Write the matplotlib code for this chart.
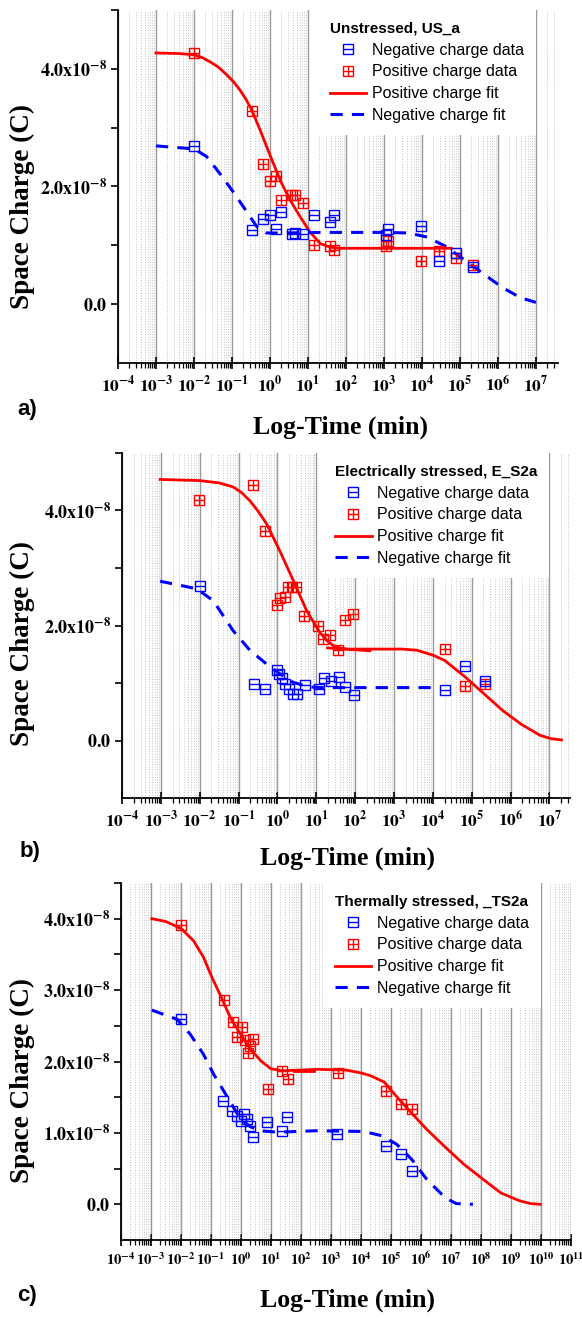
import numpy as np
import matplotlib
matplotlib.use('Agg')
import matplotlib.pyplot as plt
from matplotlib.ticker import LogLocator, NullFormatter
from matplotlib.legend_handler import HandlerTuple

plt.rcParams['mathtext.fontset'] = 'stix'
plt.rcParams['font.family'] = ['Liberation Sans', 'DejaVu Sans']

# charge values are in units of 1e-8 C, times are given as log10(t / min)

# a) Unstressed, US_a
a_pos_logt = [-2.0, -0.48, -0.19, 0.0, 0.16, 0.29, 0.57, 0.67, 0.86, 1.16, 1.59, 1.69, 3.06, 3.11, 3.98, 4.45, 4.89, 5.34]
a_pos_q = [4.27, 3.28, 2.39, 2.09, 2.18, 1.77, 1.86, 1.86, 1.72, 1.00, 0.99, 0.92, 0.99, 1.07, 0.74, 0.91, 0.78, 0.67]
a_neg_logt = [-2.0, -0.48, -0.19, 0.0, 0.17, 0.29, 0.57, 0.66, 0.86, 1.16, 1.58, 1.68, 3.06, 3.11, 3.98, 4.45, 4.89, 5.34]
a_neg_q = [2.68, 1.26, 1.45, 1.52, 1.28, 1.56, 1.20, 1.21, 1.20, 1.51, 1.39, 1.51, 1.18, 1.28, 1.33, 0.73, 0.87, 0.64]
a_pos_fit_logt = [-3.0, -2.4, -2.0, -1.78, -1.58, -1.36, -1.14, -0.96, -0.79, -0.63, -0.48, -0.26, -0.09, 0.09, 0.31,
                  0.53, 0.79, 1.05, 1.32, 1.58, 1.84, 2.2, 4.77]
a_pos_fit_q = [4.27, 4.26, 4.24, 4.19, 4.12, 4.03, 3.90, 3.78, 3.64, 3.48, 3.30, 2.96, 2.68, 2.39, 2.05,
               1.77, 1.49, 1.23, 1.03, 0.97, 0.95, 0.95, 0.95]
a_neg_fit_logt = [-3.0, -2.0, -1.67, -1.32, -0.97, -0.61, -0.35, -0.09, 0.3, 1.5, 3.0, 3.65, 4.14, 4.63, 5.12, 5.61, 6.10, 6.59, 7.0]
a_neg_fit_q = [2.69, 2.64, 2.51, 2.22, 1.91, 1.57, 1.32, 1.21, 1.21, 1.22, 1.22, 1.21, 1.14, 0.98, 0.75, 0.52, 0.29, 0.11, 0.03]

# b) Electrically stressed, E_S2a
b_pos_logt = [-2.02, -0.62, -0.33, -0.01, 0.07, 0.19, 0.28, 0.38, 0.49, 0.69, 1.05, 1.18, 1.35, 1.56, 1.73, 1.95, 4.31, 4.84, 5.35]
b_pos_q = [4.19, 4.45, 3.65, 2.36, 2.48, 2.50, 2.67, 2.67, 2.67, 2.17, 2.00, 1.76, 1.83, 1.58, 2.09, 2.20, 1.59, 0.94, 0.99]
b_neg_logt = [-2.0, -0.61, -0.31, 0.0, 0.05, 0.11, 0.19, 0.29, 0.40, 0.50, 0.70, 1.07, 1.20, 1.37, 1.58, 1.75, 1.96, 4.31, 4.84, 5.35]
b_neg_q = [2.68, 0.99, 0.90, 1.23, 1.16, 1.09, 0.99, 0.90, 0.81, 0.81, 0.96, 0.90, 1.08, 1.04, 1.10, 0.93, 0.80, 0.88, 1.29, 1.03]
b_pos_fit_logt = [-3.02, -2.0, -1.5, -1.14, -0.92, -0.71, -0.5, -0.28, 0.06, 0.41, 0.75, 1.09, 1.27, 1.44, 1.6, 1.78, 2.5, 3.2,
                  3.59, 4.02, 4.31, 4.84, 5.32, 5.80, 6.28, 6.76, 7.05, 7.31]
b_pos_fit_q = [4.54, 4.52, 4.48, 4.41, 4.31, 4.17, 3.99, 3.77, 3.30, 2.78, 2.26, 1.88, 1.74, 1.65, 1.61, 1.59, 1.59, 1.59,
               1.57, 1.48, 1.39, 1.10, 0.81, 0.52, 0.28, 0.09, 0.03, 0.01]
b_pos_seg_logt = [1.29, 2.38]
b_pos_seg_q = [1.61, 1.56]
b_neg_fit_logt = [-3.02, -2.08, -1.65, -1.14, -0.71, -0.28, 0.06, 0.41, 0.83, 1.2, 4.12]
b_neg_fit_q = [2.77, 2.64, 2.43, 1.91, 1.57, 1.33, 1.16, 1.01, 0.93, 0.92, 0.92]

# c) Thermally stressed, _TS2a
c_pos_logt = [-2.0, -0.58, -0.28, -0.12, 0.03, 0.13, 0.22, 0.30, 0.41, 0.90, 1.36, 1.56, 3.23, 4.84, 5.34, 5.69]
c_pos_q = [3.91, 2.86, 2.56, 2.34, 2.49, 2.30, 2.12, 2.22, 2.32, 1.61, 1.87, 1.75, 1.84, 1.58, 1.40, 1.33]
c_neg_logt = [-2.0, -0.60, -0.30, -0.13, -0.01, 0.11, 0.21, 0.30, 0.39, 0.88, 1.35, 1.54, 3.21, 4.82, 5.34, 5.69]
c_neg_q = [2.60, 1.45, 1.31, 1.24, 1.16, 1.26, 1.20, 1.10, 0.94, 1.15, 1.03, 1.22, 0.98, 0.81, 0.70, 0.47]
c_pos_fit_logt = [-2.97, -2.5, -1.99, -1.58, -1.25, -0.97, -0.68, -0.35, -0.01, 0.32, 0.66, 0.99, 1.38, 2.55, 3.5, 4.0, 4.33,
                  4.78, 5.1, 5.57, 6.19, 6.81, 7.43, 8.04, 8.66, 9.28, 9.65, 9.97]
c_pos_fit_q = [4.0, 3.96, 3.86, 3.69, 3.46, 3.18, 2.92, 2.61, 2.38, 2.17, 2.01, 1.90, 1.87, 1.89, 1.88, 1.84, 1.80,
               1.71, 1.55, 1.33, 1.05, 0.80, 0.56, 0.36, 0.16, 0.05, 0.01, 0.0]
c_pos_seg_logt = [1.75, 2.42]
c_pos_seg_q = [1.86, 1.86]
c_neg_fit_logt = [-2.97, -2.13, -1.69, -1.25, -0.91, -0.58, -0.24, -0.01, 0.30, 0.61, 1.23, 2.5, 4.08, 4.70, 5.19, 5.69,
                  6.19, 6.81, 7.18, 7.73]
c_neg_fit_q = [2.72, 2.59, 2.38, 2.10, 1.82, 1.59, 1.35, 1.19, 1.09, 1.03, 1.01, 1.03, 1.02, 0.96, 0.84, 0.63,
               0.35, 0.09, 0.01, 0.0]

RED = '#ff0000'
BLUE = '#0000ff'
SERIF = 'Liberation Serif'


def draw_panel(ax, title, pos, neg, pos_fit, neg_fit, seg, xmax_exp, last_dec,
               ylim, ymajor, yminor, leg_x, label_xy, xtick_size):
    sq = dict(ms=7.5, mfc='none', mew=1.0, ls='none', zorder=4)
    p_sq, = ax.plot(10.0 ** np.array(pos[0]), np.array(pos[1]) * 1e-8, 's', mec=RED, **sq)
    p_cr, = ax.plot(10.0 ** np.array(pos[0]), np.array(pos[1]) * 1e-8, '+', color=RED, **sq)
    n_sq, = ax.plot(10.0 ** np.array(neg[0]), np.array(neg[1]) * 1e-8, 's', mec=BLUE, **sq)
    n_ln, = ax.plot(10.0 ** np.array(neg[0]), np.array(neg[1]) * 1e-8, '_', color=BLUE, **sq)
    pf, = ax.plot(10.0 ** np.array(pos_fit[0]), np.array(pos_fit[1]) * 1e-8, '-', color=RED, lw=2.0, zorder=3)
    if seg is not None:
        ax.plot(10.0 ** np.array(seg[0]), np.array(seg[1]) * 1e-8, '-', color=RED, lw=2.0, zorder=3)
    nf, = ax.plot(10.0 ** np.array(neg_fit[0]), np.array(neg_fit[1]) * 1e-8, color=BLUE, lw=2.2,
                  ls=(0, (4, 3)), zorder=3)

    ax.set_xscale('log')
    ax.set_xlim(1e-4, 10.0 ** xmax_exp)
    ax.set_ylim(*ylim)

    decs = np.arange(-4, last_dec + 1)
    ax.set_xticks(10.0 ** decs, [r'$\mathbf{10^{%d}}$' % d for d in decs])
    ax.xaxis.set_minor_locator(LogLocator(base=10, subs=np.arange(2, 10) * 1.0, numticks=300))
    ax.xaxis.set_minor_formatter(NullFormatter())

    ylabels = []
    for v in ymajor:
        if v == 0:
            ylabels.append(r'$\mathbf{0.0}$')
        else:
            ylabels.append(r'$\mathbf{%.1fx10^{-8}}$' % v)
    ax.set_yticks(np.array(ymajor) * 1e-8, ylabels)
    ax.set_yticks(np.array(yminor) * 1e-8, minor=True)

    ax.grid(True, which='major', axis='x', color='#9a9a9a', lw=1.0, ls='-')
    ax.grid(True, which='minor', axis='x', color='#c4c4c4', lw=0.7, ls=':')
    ax.set_axisbelow(True)

    for s in ['top', 'right']:
        ax.spines[s].set_visible(False)
    for s in ['left', 'bottom']:
        ax.spines[s].set_linewidth(1.3)
    ax.tick_params(axis='x', which='major', direction='inout', length=8, width=1.2, labelsize=xtick_size, pad=4)
    ax.tick_params(axis='x', which='minor', direction='out', length=3.5, width=0.9)
    ax.tick_params(axis='y', which='both', direction='out', length=5, width=1.2, labelsize=13, pad=3)

    ax.set_xlabel('Log-Time (min)', family=SERIF, weight='bold', fontsize=18.5)
    ax.set_ylabel('Space Charge (C)', family=SERIF, weight='bold', fontsize=19.5)
    ax.xaxis.label.set_va('center')
    ax.yaxis.label.set_va('center')
    ax.xaxis.set_label_coords(*label_xy[0])
    ax.yaxis.set_label_coords(*label_xy[1])

    leg = ax.legend([(n_sq, n_ln), (p_sq, p_cr), pf, nf],
                    ['Negative charge data', 'Positive charge data',
                     'Positive charge fit', 'Negative charge fit'],
                    handler_map={tuple: HandlerTuple(ndivide=1)},
                    title=title, alignment='left', numpoints=1,
                    loc='upper right', bbox_to_anchor=(leg_x, ylim[1]),
                    bbox_transform=ax.transData, borderaxespad=0,
                    frameon=True, fancybox=False, facecolor='white',
                    edgecolor='none', framealpha=1.0,
                    prop={'size': 11.5}, title_fontproperties={'size': 11, 'weight': 'bold'},
                    handlelength=2.3, handletextpad=0.35, labelspacing=0.42, borderpad=0.75)
    leg.set_zorder(6)


fig = plt.figure(figsize=(5.82, 13.18), dpi=100)
W, H = 582.0, 1318.0


def rect(l, r, t, b):
    return [l / W, 1 - b / H, (r - l) / W, (b - t) / H]


ax_a = fig.add_axes(rect(118, 558, 10, 363))
draw_panel(ax_a, 'Unstressed, US_a',
           (a_pos_logt, a_pos_q), (a_neg_logt, a_neg_q),
           (a_pos_fit_logt, a_pos_fit_q), (a_neg_fit_logt, a_neg_fit_q), None,
           7.58, 7, (-1e-8, 5e-8), [0, 2, 4], [1, 3, 5], 1e7,
           ((0.505, -0.181), (-0.218, 0.442)), 12.5)

ax_b = fig.add_axes(rect(122, 570, 453, 798))
draw_panel(ax_b, 'Electrically stressed, E_S2a',
           (b_pos_logt, b_pos_q), (b_neg_logt, b_neg_q),
           (b_pos_fit_logt, b_pos_fit_q), (b_neg_fit_logt, b_neg_fit_q),
           (b_pos_seg_logt, b_pos_seg_q),
           7.53, 7, (-1e-8, 5e-8), [0, 2, 4], [1, 3, 5], 1e7,
           ((0.504, -0.174), (-0.223, 0.449)), 12.5)

ax_c = fig.add_axes(rect(121, 571, 883, 1240))
draw_panel(ax_c, 'Thermally stressed, _TS2a',
           (c_pos_logt, c_pos_q), (c_neg_logt, c_neg_q),
           (c_pos_fit_logt, c_pos_fit_q), (c_neg_fit_logt, c_neg_fit_q),
           (c_pos_seg_logt, c_pos_seg_q),
           11.0, 11, (-0.5e-8, 4.5e-8), [0, 1, 2, 3, 4], [0.5, 1.5, 2.5, 3.5, 4.5], 1e10,
           ((0.504, -0.168), (-0.22, 0.448)), 10.5)

for lab, x, y in [('a)', 27, 410), ('b)', 30, 852), ('c)', 27, 1295)]:
    fig.text(x / W, 1 - y / H, lab, fontsize=16, weight='bold', ha='center', va='center')

fig.savefig('out.png', dpi=100)
